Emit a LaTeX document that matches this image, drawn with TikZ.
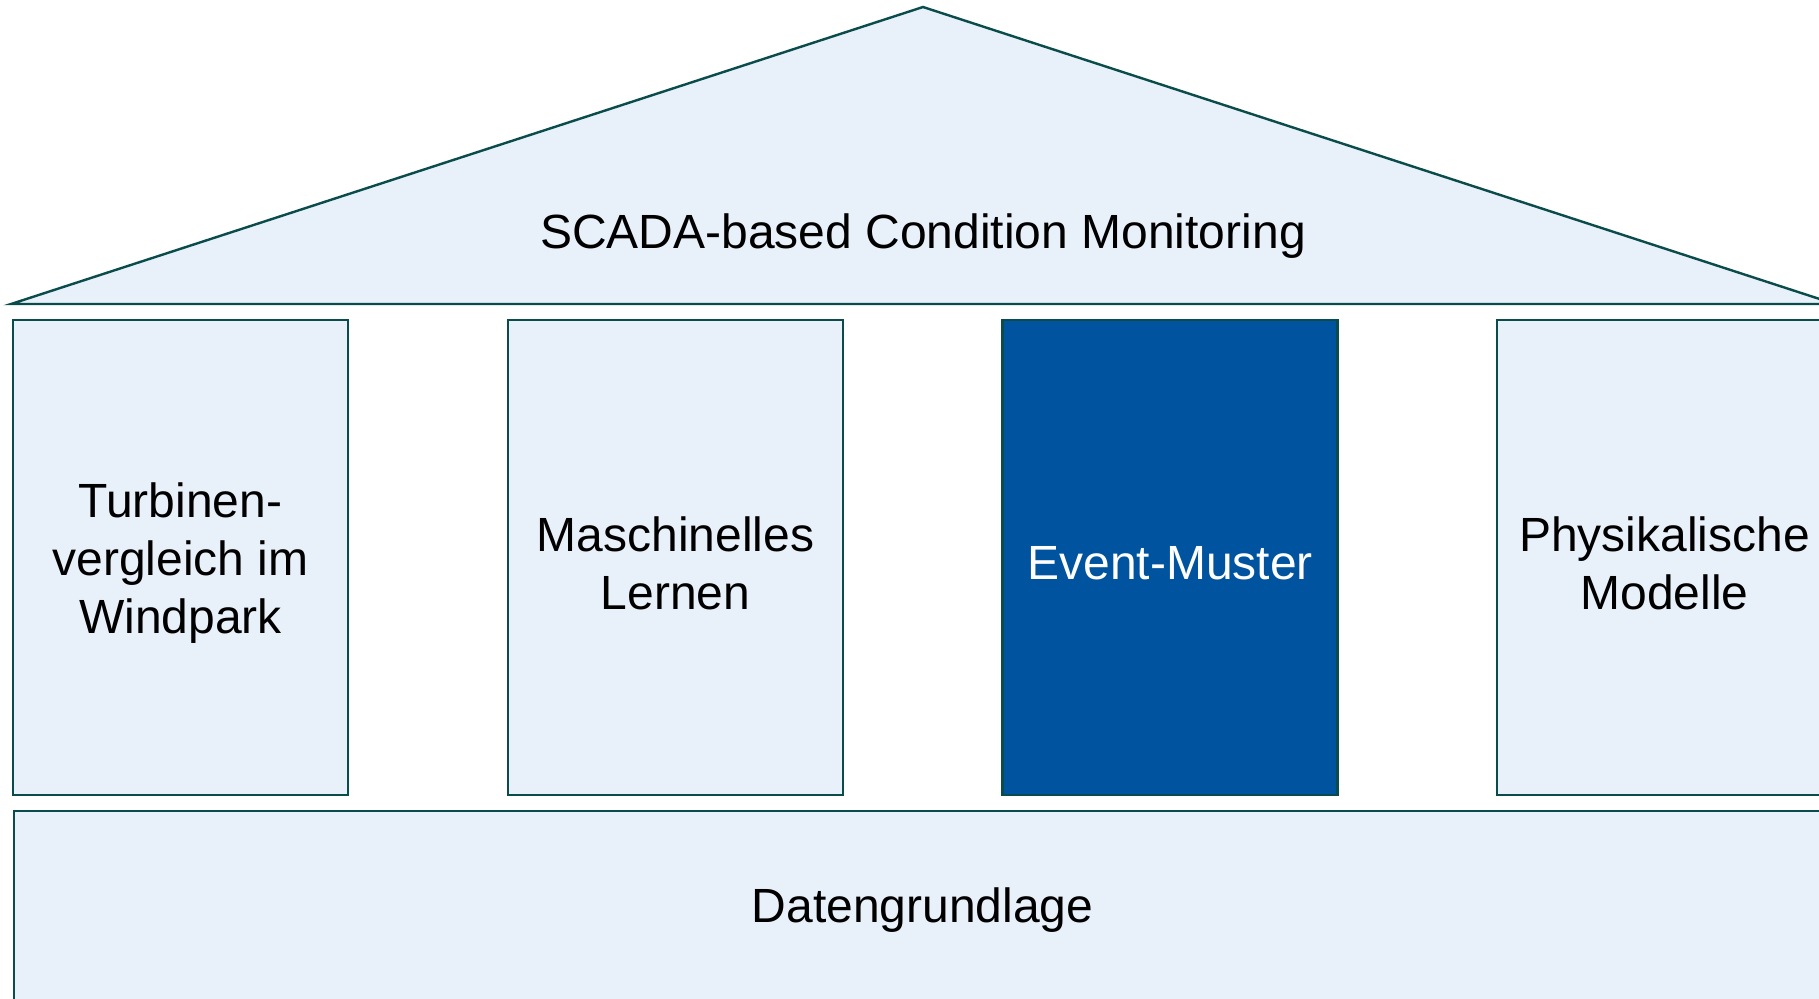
\documentclass[tikz,border=0pt]{standalone}
\usepackage{fontspec}
\setmainfont{Liberation Sans}
\definecolor{lightfill}{RGB}{232,240,249}
\definecolor{edge}{RGB}{10,75,75}
\definecolor{darkblue}{RGB}{0,83,159}
\begin{document}
\begin{tikzpicture}[x=0.5pt,y=-0.5pt,
  every node/.style={font=\fontsize{24}{29}\selectfont},
  part/.style={draw=edge, line width=1.2pt, fill=lightfill},
  pillar/.style={part, rectangle, minimum width=167.5pt, minimum height=237.5pt, inner sep=0pt},
  hlpillar/.style={pillar, fill=darkblue},
  ptext/.style={align=center, text=black, yshift=-3pt},
  hltext/.style={ptext, text=white},
  basebox/.style={part, rectangle, minimum width=909.5pt, minimum height=150pt, inner sep=0pt}]
\useasboundingbox (0,0) rectangle (1819,998);
\clip (0,0) rectangle (1819,998);
\fill[white] (0,0) rectangle (1819,998);
% roof
\coordinate (rl) at (11,304);
\coordinate (ra) at (923,7);
\coordinate (rr) at (1835,304);
\draw[part, line join=miter] (rl) -- (ra) -- (rr) -- cycle;
\node (roof) at (923,236) {SCADA-based Condition Monitoring};
% pillars
\node[pillar] (p1) at (180.5,557.5) {};
\node[pillar] (p2) at (675.5,557.5) {};
\node[hlpillar] (p3) at (1170,557.5) {};
\node[pillar] (p4) at (1664.5,557.5) {};
\node[ptext] (t1) at (p1.center) {Turbinen-\\vergleich im\\Windpark};
\node[ptext] (t2) at (p2.center) {Maschinelles\\Lernen};
\node[hltext] (t3) at (p3.center) {Event-Muster};
\node[ptext] (t4) at (p4.center) {Physikalische\\Modelle};
% base
\node[basebox, anchor=north west] (base) at (13,810) {};
\node (basetext) at (922.5,910) {Datengrundlage};
\end{tikzpicture}
\end{document}
